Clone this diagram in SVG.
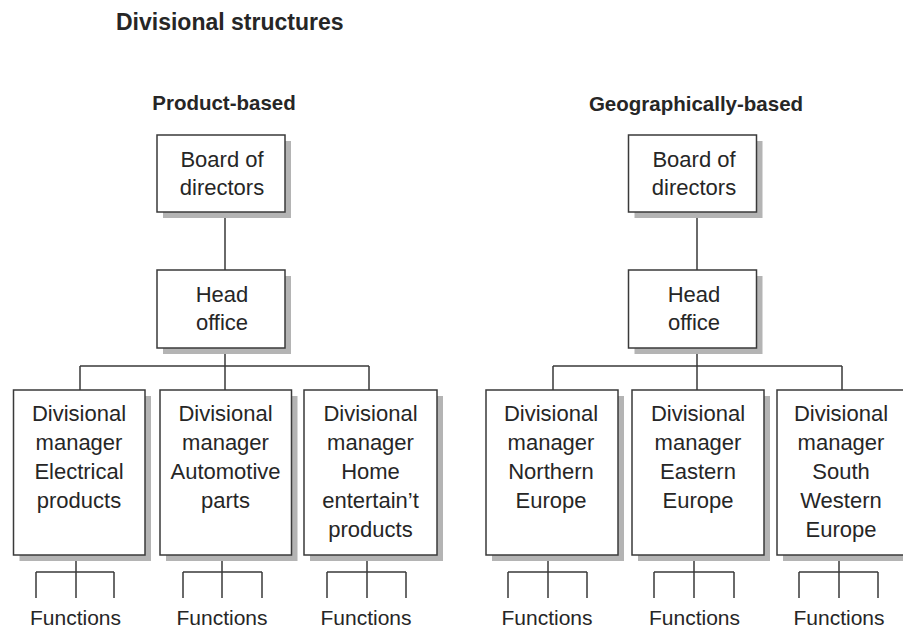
<svg xmlns="http://www.w3.org/2000/svg" width="903" height="631" viewBox="0 0 903 631">
<style>
.sh{fill:#b4b4b4;stroke:none}
.bx{fill:#fff;stroke:#3a3a3a;stroke-width:1.5}
.t{font-family:"Liberation Sans",Arial,sans-serif;font-size:22px;fill:#262626;text-anchor:middle}
.f{font-family:"Liberation Sans",Arial,sans-serif;font-size:21px;fill:#262626;text-anchor:middle}
.h{font-family:"Liberation Sans",Arial,sans-serif;font-weight:bold;fill:#262626}
#connectors path{fill:none;stroke:#3a3a3a;stroke-width:1.5}
</style>
<rect width="903" height="631" fill="#fff"/>
<text class="h" x="116" y="30" font-size="23">Divisional structures</text>
<text class="h" x="224" y="110" font-size="20.5" text-anchor="middle">Product-based</text>
<text class="h" x="696" y="111" font-size="20.5" text-anchor="middle">Geographically-based</text>

<g id="connectors">
<path d="M225 212V270M225 348V366M80 366H369M80 366V390M225 366V390M369 366V390"/>
<path d="M76 555V572M36 572H114M36 572V598M76 572V598M114 572V598"/>
<path d="M222 555V572M183 572H262M183 572V598M222 572V598M262 572V598"/>
<path d="M367 555V572M327 572H406M327 572V598M367 572V598M406 572V598"/>
<path d="M697 212V270M697 348V366M553 366H842M553 366V390M697 366V390M842 366V390"/>
<path d="M548 555V572M508 572H587M508 572V598M548 572V598M587 572V598"/>
<path d="M694 555V572M654 572H734M654 572V598M694 572V598M734 572V598"/>
<path d="M839 555V572M799 572H878M799 572V598M839 572V598M878 572V598"/>
</g>

<g id="p-board"><rect class="sh" x="163" y="141" width="128" height="77"/><rect class="bx" x="157" y="135" width="128" height="77"/>
<text class="t" x="222" y="167">Board of</text><text class="t" x="222" y="195">directors</text></g>
<g id="p-head"><rect class="sh" x="163" y="276" width="128" height="78"/><rect class="bx" x="157" y="270" width="128" height="78"/>
<text class="t" x="222" y="302">Head</text><text class="t" x="222" y="330">office</text></g>

<g id="p-div1"><rect class="sh" x="19.5" y="396" width="131.5" height="165"/><rect class="bx" x="13.5" y="390" width="131.5" height="165"/>
<text class="t" x="79" y="421">Divisional</text><text class="t" x="79" y="450">manager</text><text class="t" x="79" y="479">Electrical</text><text class="t" x="79" y="508">products</text></g>
<g id="p-div2"><rect class="sh" x="166" y="396" width="131.5" height="165"/><rect class="bx" x="160" y="390" width="131.5" height="165"/>
<text class="t" x="225.5" y="421">Divisional</text><text class="t" x="225.5" y="450">manager</text><text class="t" x="225.5" y="479">Automotive</text><text class="t" x="225.5" y="508">parts</text></g>
<g id="p-div3"><rect class="sh" x="310" y="396" width="133" height="165"/><rect class="bx" x="304" y="390" width="133" height="165"/>
<text class="t" x="370.5" y="421">Divisional</text><text class="t" x="370.5" y="450">manager</text><text class="t" x="370.5" y="479">Home</text><text class="t" x="370.5" y="508">entertain’t</text><text class="t" x="370.5" y="537">products</text></g>

<g id="p-f1"><text class="f" x="75.5" y="625">Functions</text></g>
<g id="p-f2"><text class="f" x="222" y="625">Functions</text></g>
<g id="p-f3"><text class="f" x="366" y="625">Functions</text></g>

<g id="g-board"><rect class="sh" x="634.5" y="141" width="128" height="77"/><rect class="bx" x="628.5" y="135" width="128" height="77"/>
<text class="t" x="694" y="167">Board of</text><text class="t" x="694" y="195">directors</text></g>
<g id="g-head"><rect class="sh" x="634.5" y="276" width="128" height="78"/><rect class="bx" x="628.5" y="270" width="128" height="78"/>
<text class="t" x="694" y="302">Head</text><text class="t" x="694" y="330">office</text></g>

<g id="g-div1"><rect class="sh" x="492" y="396" width="132" height="165"/><rect class="bx" x="486" y="390" width="132" height="165"/>
<text class="t" x="551" y="421">Divisional</text><text class="t" x="551" y="450">manager</text><text class="t" x="551" y="479">Northern</text><text class="t" x="551" y="508">Europe</text></g>
<g id="g-div2"><rect class="sh" x="638" y="396" width="132" height="165"/><rect class="bx" x="632" y="390" width="132" height="165"/>
<text class="t" x="698" y="421">Divisional</text><text class="t" x="698" y="450">manager</text><text class="t" x="698" y="479">Eastern</text><text class="t" x="698" y="508">Europe</text></g>
<g id="g-div3"><rect class="sh" x="783" y="396" width="132" height="165"/><rect class="bx" x="777" y="390" width="132" height="165"/>
<text class="t" x="841" y="421">Divisional</text><text class="t" x="841" y="450">manager</text><text class="t" x="841" y="479">South</text><text class="t" x="841" y="508">Western</text><text class="t" x="841" y="537">Europe</text></g>

<g id="g-f1"><text class="f" x="547" y="625">Functions</text></g>
<g id="g-f2"><text class="f" x="694.5" y="625">Functions</text></g>
<g id="g-f3"><text class="f" x="839" y="625">Functions</text></g>
</svg>
